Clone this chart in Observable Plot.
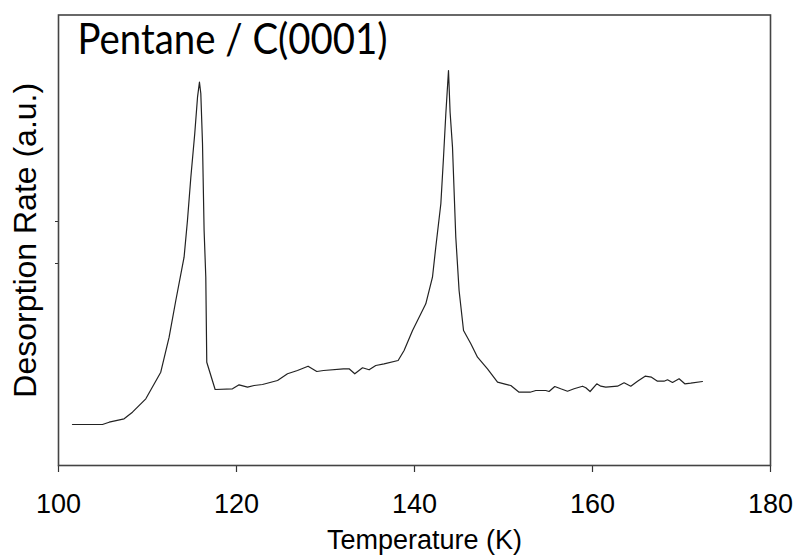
<!DOCTYPE html>
<html>
<head>
<meta charset="utf-8">
<script src="https://cdn.jsdelivr.net/npm/d3@7"></script>
<script src="https://cdn.jsdelivr.net/npm/@observablehq/plot@0.6"></script>
<style>
  html, body { margin: 0; padding: 0; background: #fff; }
</style>
</head>
<body>
<div id="chart"></div>
<script>
const title = "Pentane / C(0001)";
const xLabel = "Temperature (K)";
const yLabel = "Desorption Rate (a.u.)";
const xTicks = [100, 120, 140, 160, 180];
const yTicks = [202, 244];

const temperature = [
  101.57, 104.94, 105.69, 107.37, 108.31, 109.81, 111.49, 112.43, 113.18, 114.11,
  114.49, 114.87, 115.31, 115.62, 115.84, 115.99, 116.18, 116.36, 116.55, 116.66,
  117.60, 119.55, 120.29, 121.24, 121.98, 122.92, 124.61, 125.73, 126.85, 128.04,
  129.02, 129.78, 132.02, 132.65, 133.29, 134.16, 134.90, 135.65, 136.58, 138.16,
  138.83, 139.78, 141.27, 142.02, 142.39, 142.96, 143.26, 143.52, 143.82, 144.00,
  144.27, 144.64, 145.01, 145.51, 146.33, 147.08, 148.20, 149.33, 150.07, 150.82,
  151.75, 152.99, 153.63, 154.75, 155.12, 155.76, 156.43, 157.19, 157.93, 158.88,
  159.25, 159.73, 160.48, 160.93, 161.49, 162.81, 163.55, 164.30, 165.06, 165.91,
  166.63, 167.30, 168.04, 168.43, 168.99, 169.73, 170.37, 171.04, 172.36
];
const rate = [
  41, 41, 43.3, 46.7, 53.3, 66.7, 93.3, 128.3, 165, 208.3,
  245, 288.3, 332, 368.3, 383.3, 372, 322, 235, 188.3, 103.3,
  76, 76.7, 80.7, 78.3, 80, 81, 85, 91.7, 95, 99.3,
  94, 95, 96.7, 96.7, 91.7, 97.7, 95.7, 100, 101.7, 105,
  115, 135, 161.7, 188.3, 218.3, 261.7, 308.3, 351.7, 395, 353.3,
  318.3, 228.3, 175, 135, 121.7, 108.3, 96.7, 83.3, 81.7, 80,
  73.3, 73.3, 75, 75, 74, 79, 76.7, 74.3, 76.7, 79.3,
  77.7, 74, 81.7, 79.3, 78.3, 79.3, 82.7, 79.3, 84.3, 89.3,
  88.3, 84.3, 84.3, 85.7, 83, 86.7, 81.7, 82.3, 84
];

const data = temperature.map((t, i) => ({T: t, r: rate[i]}));

const chart = Plot.plot({
  width: 799,
  height: 556,
  marginLeft: 58,
  marginTop: 14.5,
  marginRight: 29,
  marginBottom: 91,
  style: {fontFamily: "'Liberation Sans', Arial, sans-serif", fontSize: "27px", color: "#000", background: "#fff"},
  x: {domain: [100, 180], axis: null},
  y: {domain: [0, 450.5], axis: null},
  marks: [
    Plot.axisX(xTicks, {anchor: "bottom", tickSize: 7, tickPadding: 21, stroke: "#333", strokeWidth: 1.2, fontSize: 27, label: null}),
    Plot.axisY(yTicks, {anchor: "left", tickSize: 3, tickFormat: () => "", stroke: "#333", label: null}),
    Plot.line(data, {x: "T", y: "r", stroke: "#222", strokeWidth: 1.2}),
    Plot.frame({stroke: "#444", strokeWidth: 1.6}),
    Plot.text([title], {frameAnchor: "top-left", textAnchor: "start", lineAnchor: "top", dx: 19, dy: 8, fontSize: 43, fontFamily: "Lato, 'Open Sans', sans-serif", fill: "#000"}),
    Plot.text([xLabel], {frameAnchor: "bottom", textAnchor: "middle", lineAnchor: "middle", dx: 10, dy: 75, fontSize: 27, fill: "#000"}),
    Plot.text([yLabel], {frameAnchor: "left", textAnchor: "middle", rotate: -90, lineAnchor: "middle", dx: -33, fontSize: 32, fill: "#000"})
  ]
});
d3.select(chart).selectAll("text")
  .filter(function() { return this.textContent === title; })
  .attr("textLength", 310)
  .attr("lengthAdjust", "spacingAndGlyphs");
document.getElementById("chart").appendChild(chart);
</script>
</body>
</html>
